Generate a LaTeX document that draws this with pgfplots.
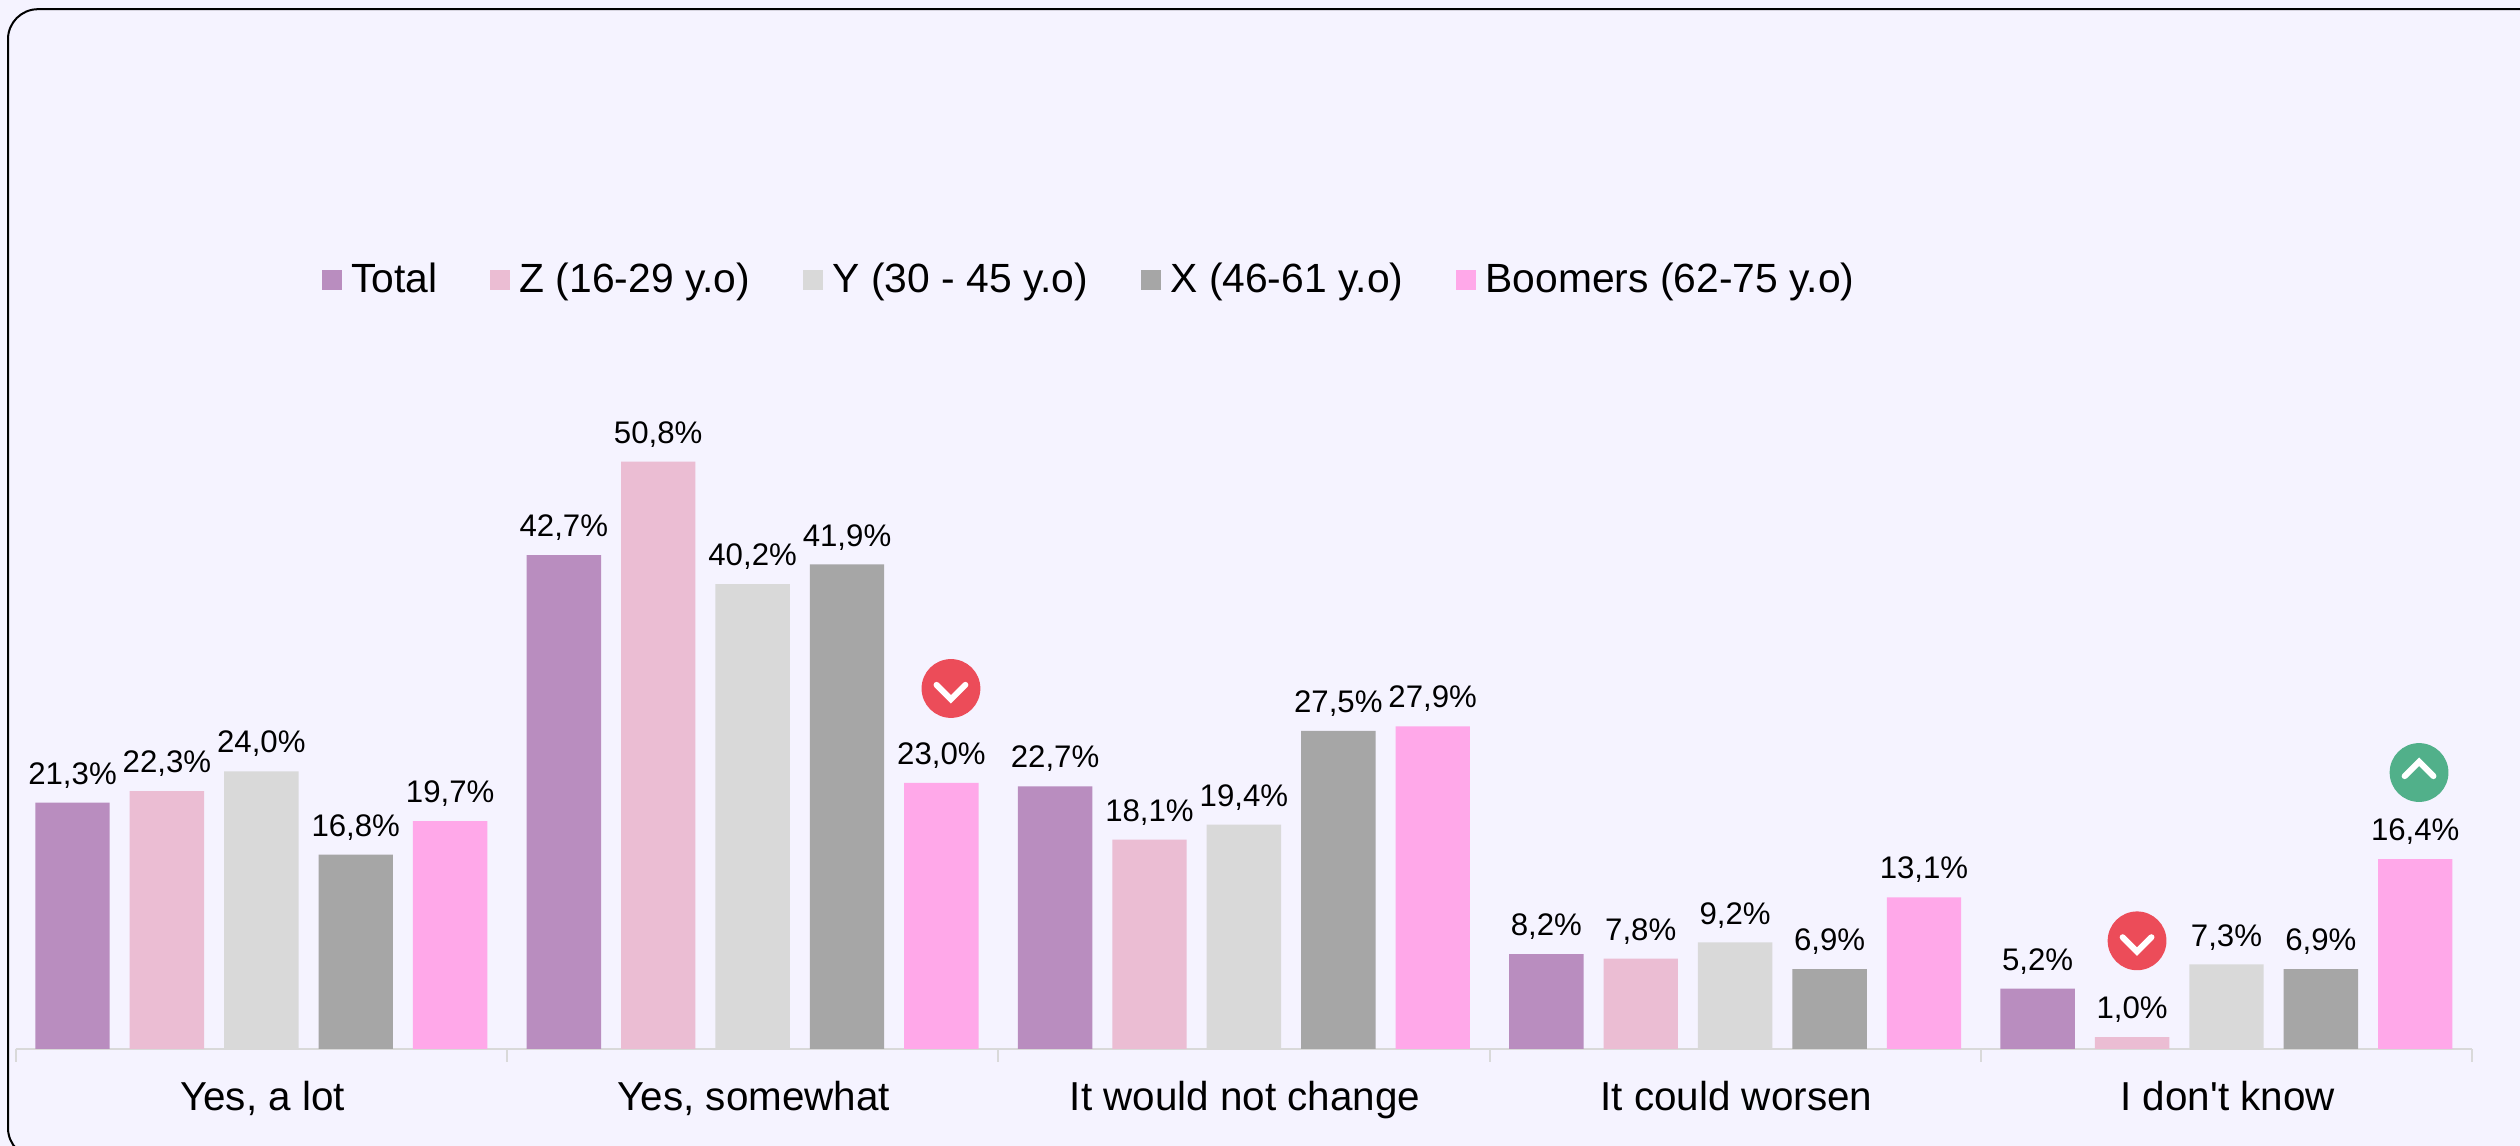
\documentclass[border=0pt]{standalone}
\usepackage{fontspec}
\setmainfont{Liberation Sans}
\newfontfamily\plainsans{Liberation Sans}
\usepackage{pgfplots}
\pgfplotsset{compat=1.18}

% 1 px of the reference = 0.25pt
\definecolor{bgcol}{HTML}{F5F3FF}
\definecolor{ctotal}{HTML}{B98DBF}
\definecolor{cz}{HTML}{EBBDD3}
\definecolor{cy}{HTML}{D9D9D9}
\definecolor{cx}{HTML}{A6A6A6}
\definecolor{cboom}{HTML}{FFA8E9}
\definecolor{cdown}{HTML}{EC4C59}
\definecolor{cup}{HTML}{51B08A}

\pgfdeclareplotmark{chevdown}{%
  \pgfsetfillcolor{cdown}\pgfpathcircle{\pgfpointorigin}{7.35pt}\pgfusepathqfill
  \pgfsetstrokecolor{white}\pgfsetlinewidth{1.5pt}\pgfsetroundcap\pgfsetmiterjoin
  \pgfpathmoveto{\pgfpoint{-3.6pt}{0.9pt}}\pgfpathlineto{\pgfpoint{0pt}{-2.7pt}}\pgfpathlineto{\pgfpoint{3.6pt}{0.9pt}}\pgfusepathqstroke}
\pgfdeclareplotmark{chevup}{%
  \pgfsetfillcolor{cup}\pgfpathcircle{\pgfpointorigin}{7.35pt}\pgfusepathqfill
  \pgfsetstrokecolor{white}\pgfsetlinewidth{1.5pt}\pgfsetroundcap\pgfsetmiterjoin
  \pgfpathmoveto{\pgfpoint{-3.6pt}{-0.9pt}}\pgfpathlineto{\pgfpoint{0pt}{2.7pt}}\pgfpathlineto{\pgfpoint{3.6pt}{-0.9pt}}\pgfusepathqstroke}

\begin{document}
\begin{tikzpicture}
\useasboundingbox (0,0) rectangle (630pt,286.5pt);
\fill[bgcol] (0,0) rectangle (630pt,286.5pt);
\begin{scope}
\clip (0,0) rectangle (630pt,286.5pt);
\draw[black, line width=0.5pt, rounded corners=7.5pt] (2pt,-3pt) rectangle (640pt,284.2pt);
\end{scope}
\begin{axis}[
 at={(3.925pt,24.3pt)}, anchor=origin,
 scale only axis, width=614.1pt, height=231.2pt,
 xmin=0, xmax=5, ymin=0, ymax=80,
 clip=false,
 ybar=5pt, bar width=18.6pt,
 axis x line=bottom, axis y line=none,
 axis line style={draw=cy, line width=0.5pt, -},
 xtick={0.5,1.5,2.5,3.5,4.5},
 xticklabels={{Yes, a lot},{Yes, somewhat},{It would not change},{It could worsen},{I don{\plainsans '}t know}},
 xticklabel style={font=\fontsize{10.1}{12}\selectfont, text height=7.5pt, text depth=2pt, yshift=-4.4pt, xshift=0.3pt},
 major tick length=0pt,
 minor xtick={0,1,2,3,4,5},
 minor tick length=3.2pt,
 tick align=outside,
 minor tick style={draw=cy, line width=0.5pt},
 nodes near coords={\pgfmathprintnumber[fixed,fixed zerofill,precision=1,use comma,assume math mode=true]{\pgfplotspointmeta}\%},
 every node near coord/.append style={font=\fontsize{7.8}{9}\selectfont, anchor=base, yshift=4.6pt, inner sep=0pt, text=black},
 legend columns=5,
 legend style={draw=none, fill=none, font=\fontsize{10.2}{12}\selectfont, anchor=west,
   at={(axis description cs:0.1193,0.831)},
   /tikz/every even column/.append style={column sep=11.2pt}},
 legend image code/.code={\fill[#1] (0pt,-2.5pt) rectangle (5pt,2.5pt); \path (5.4pt,0pt);},
]
\addplot[fill=ctotal, draw=none] coordinates {(0.5,21.3) (1.5,42.7) (2.5,22.7) (3.5,8.2) (4.5,5.2)};
\addplot[fill=cz, draw=none] coordinates {(0.5,22.3) (1.5,50.8) (2.5,18.1) (3.5,7.8) (4.5,1.0)};
\addplot[fill=cy, draw=none] coordinates {(0.5,24.0) (1.5,40.2) (2.5,19.4) (3.5,9.2) (4.5,7.3)};
\addplot[fill=cx, draw=none] coordinates {(0.5,16.8) (1.5,41.9) (2.5,27.5) (3.5,6.9) (4.5,6.9)};
\addplot[fill=cboom, draw=none] coordinates {(0.5,19.7) (1.5,23.0) (2.5,27.9) (3.5,13.1) (4.5,16.4)};
\legend{Total, Z (16-29 y.o), Y (30 - 45 y.o), X (46-61 y.o), Boomers (62-75 y.o)}
\end{axis}
% arrows badges, on their own axis with the same scale
\begin{axis}[
 at={(3.925pt,24.3pt)}, anchor=origin,
 scale only axis, width=614.1pt, height=231.2pt,
 xmin=0, xmax=5, ymin=0, ymax=80,
 clip=false, axis lines=none,
]
\addplot[only marks, mark=chevdown] coordinates {(1.9037,31.17) (4.318,9.34)};
\addplot[only marks, mark=chevup] coordinates {(4.892,23.90)};
\end{axis}
\end{tikzpicture}
\end{document}
